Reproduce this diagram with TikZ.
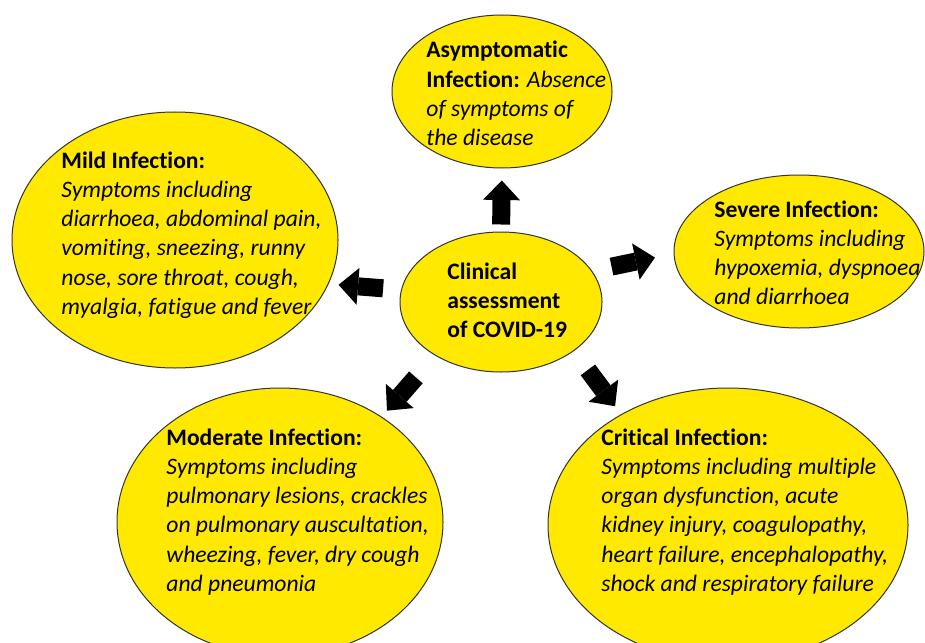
\documentclass[tikz,border=0pt]{standalone}
\usepackage{fontspec}
\setmainfont{Carlito}[Ligatures=NoCommon]
\usetikzlibrary{shapes.geometric,arrows.meta}
\definecolor{bubblefill}{RGB}{255,233,0}
\begin{document}
\begin{tikzpicture}[x=0.5pt,y=-0.5pt,
    bubble/.style={ellipse,draw=black!80,line width=0.5pt,fill=bubblefill,inner sep=0pt},
    txt/.style={anchor=base west,align=left,inner sep=0pt,font=\fontsize{11.8}{14.65}\selectfont},
    bigarrow/.style={line width=9pt,-{Triangle[length=9.75pt,width=18.5pt,line width=0pt]}}]
  \useasboundingbox (0,0) rectangle (925,642);
  %ellissi
  \node[bubble,minimum width=101pt,minimum height=70pt] (clin) at (501,302) {};
  \node[bubble,minimum width=110pt,minimum height=76.5pt] (asym) at (502,91.5) {};
  \node[bubble,minimum width=163pt,minimum height=128pt] (mild) at (175,240) {};
  \node[bubble,minimum width=125pt,minimum height=76.5pt] (severe) at (799,251.5) {};
  \node[bubble,minimum width=163pt,minimum height=134pt] (moder) at (280,522) {};
  \node[bubble,minimum width=180pt,minimum height=137pt] (crit) at (728,525) {};
  %testi (ancorati all'ultima riga)
  \node[txt] (clintxt) at (447,337.6) {\textbf{Clinical}\\\textbf{assessment}\\\textbf{of COVID-19}};
  \node[txt] (asymtxt) at (426,145.9) {\textbf{Asymptomatic}\\\textbf{Infection:} \textit{Absence}\\\textit{of symptoms of}\\\textit{the disease}};
  \node[txt] (mildtxt) at (61,314.5) {\textbf{Mild Infection:}\\\textit{Symptoms including}\\\textit{diarrhoea, abdominal pain,}\\\textit{vomiting, sneezing, runny}\\\textit{nose, sore throat, cough,}\\\textit{myalgia, fatigue and fever}};
  \node[txt] (severetxt) at (714,304.9) {\textbf{Severe Infection:}\\\textit{Symptoms including}\\\textit{hypoxemia, dyspnoea}\\\textit{and diarrhoea}};
  \node[txt] (modertxt) at (166,591.5) {\textbf{Moderate Infection:}\\\textit{Symptoms including}\\\textit{pulmonary lesions, crackles}\\\textit{on pulmonary auscultation,}\\\textit{wheezing, fever, dry cough}\\\textit{and pneumonia}};
  \node[txt] (crittxt) at (601,591.5) {\textbf{Critical Infection:}\\\textit{Symptoms including multiple}\\\textit{organ dysfunction, acute}\\\textit{kidney injury, coagulopathy,}\\\textit{heart failure, encephalopathy,}\\\textit{shock and respiratory failure}};
  %frecce
  \draw[bigarrow,shorten <=3.5pt,shorten >=6pt] (clin.90) -- (asym.-90);
  \draw[bigarrow,shorten <=9pt,shorten >=5pt] (clin.173) -- (mild.-16);
  \draw[bigarrow,shorten <=10pt,shorten >=9.5pt] (clin.19) -- (severe.181);
  \draw[bigarrow,shorten <=14.5pt,shorten >=4pt] (clin.219) -- (moder.46);
  \draw[bigarrow,shorten <=11.75pt,shorten >=5pt] (clin.-34) -- (crit.134);
\end{tikzpicture}
\end{document}
